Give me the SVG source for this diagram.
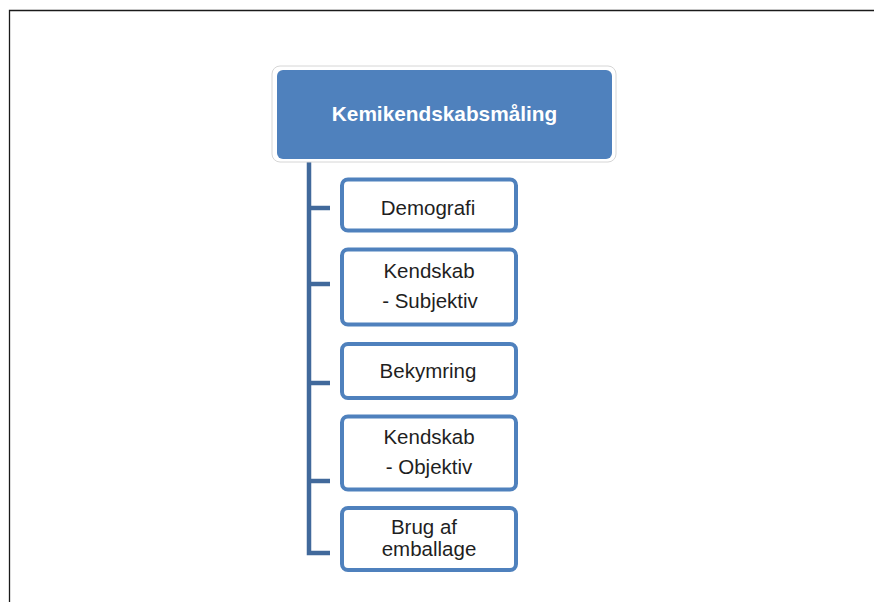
<svg xmlns="http://www.w3.org/2000/svg" width="874" height="602" viewBox="0 0 874 602">
<style>
.frame{stroke:#1a1a1a;stroke-width:1.3;fill:none}
.conn{stroke:#41699b;stroke-width:4.5;fill:none;stroke-linecap:butt;stroke-linejoin:miter}
.box{fill:#ffffff;stroke:#4f81bd;stroke-width:4}
.lbl{font-family:"Liberation Sans",Arial,sans-serif;font-size:20.5px;fill:#1f1f1f;text-anchor:middle}
.title{font-family:"Liberation Sans",Arial,sans-serif;font-size:20.8px;font-weight:bold;fill:#ffffff;text-anchor:middle}
</style>
<rect x="0" y="0" width="874" height="602" fill="#ffffff"/>
<path class="frame" d="M9.5,602 V10.5 H874"/>
<g id="connectors">
<path class="conn" d="M309,160 V553 H330"/>
<path class="conn" d="M309,208 H330"/>
<path class="conn" d="M309,284 H330"/>
<path class="conn" d="M309,383 H330"/>
<path class="conn" d="M309,481 H330"/>
</g>
<g id="root">
<rect x="272" y="66" width="344" height="96" rx="8" fill="#ffffff" stroke="#d6d6d6" stroke-width="1"/>
<rect x="277" y="70" width="335" height="89" rx="6" fill="#4f81bd"/>
<text class="title" x="444.5" y="121">Kemikendskabsmåling</text>
</g>
<g id="demografi">
<rect class="box" x="342" y="179.5" width="174" height="51" rx="6"/>
<text class="lbl" x="428" y="215">Demografi</text>
</g>
<g id="kendskab-subjektiv">
<rect class="box" x="342" y="249.5" width="174" height="75" rx="6"/>
<text class="lbl" x="429" y="278">Kendskab</text>
<text class="lbl" x="430" y="308">- Subjektiv</text>
</g>
<g id="bekymring">
<rect class="box" x="342" y="344" width="174" height="54" rx="6"/>
<text class="lbl" x="428" y="378">Bekymring</text>
</g>
<g id="kendskab-objektiv">
<rect class="box" x="342" y="416.5" width="174" height="73" rx="6"/>
<text class="lbl" x="429" y="444">Kendskab</text>
<text class="lbl" x="429" y="474">- Objektiv</text>
</g>
<g id="brug-af-emballage">
<rect class="box" x="342" y="508" width="174" height="62" rx="6"/>
<text class="lbl" x="424" y="534">Brug af</text>
<text class="lbl" x="429" y="556">emballage</text>
</g>
</svg>
